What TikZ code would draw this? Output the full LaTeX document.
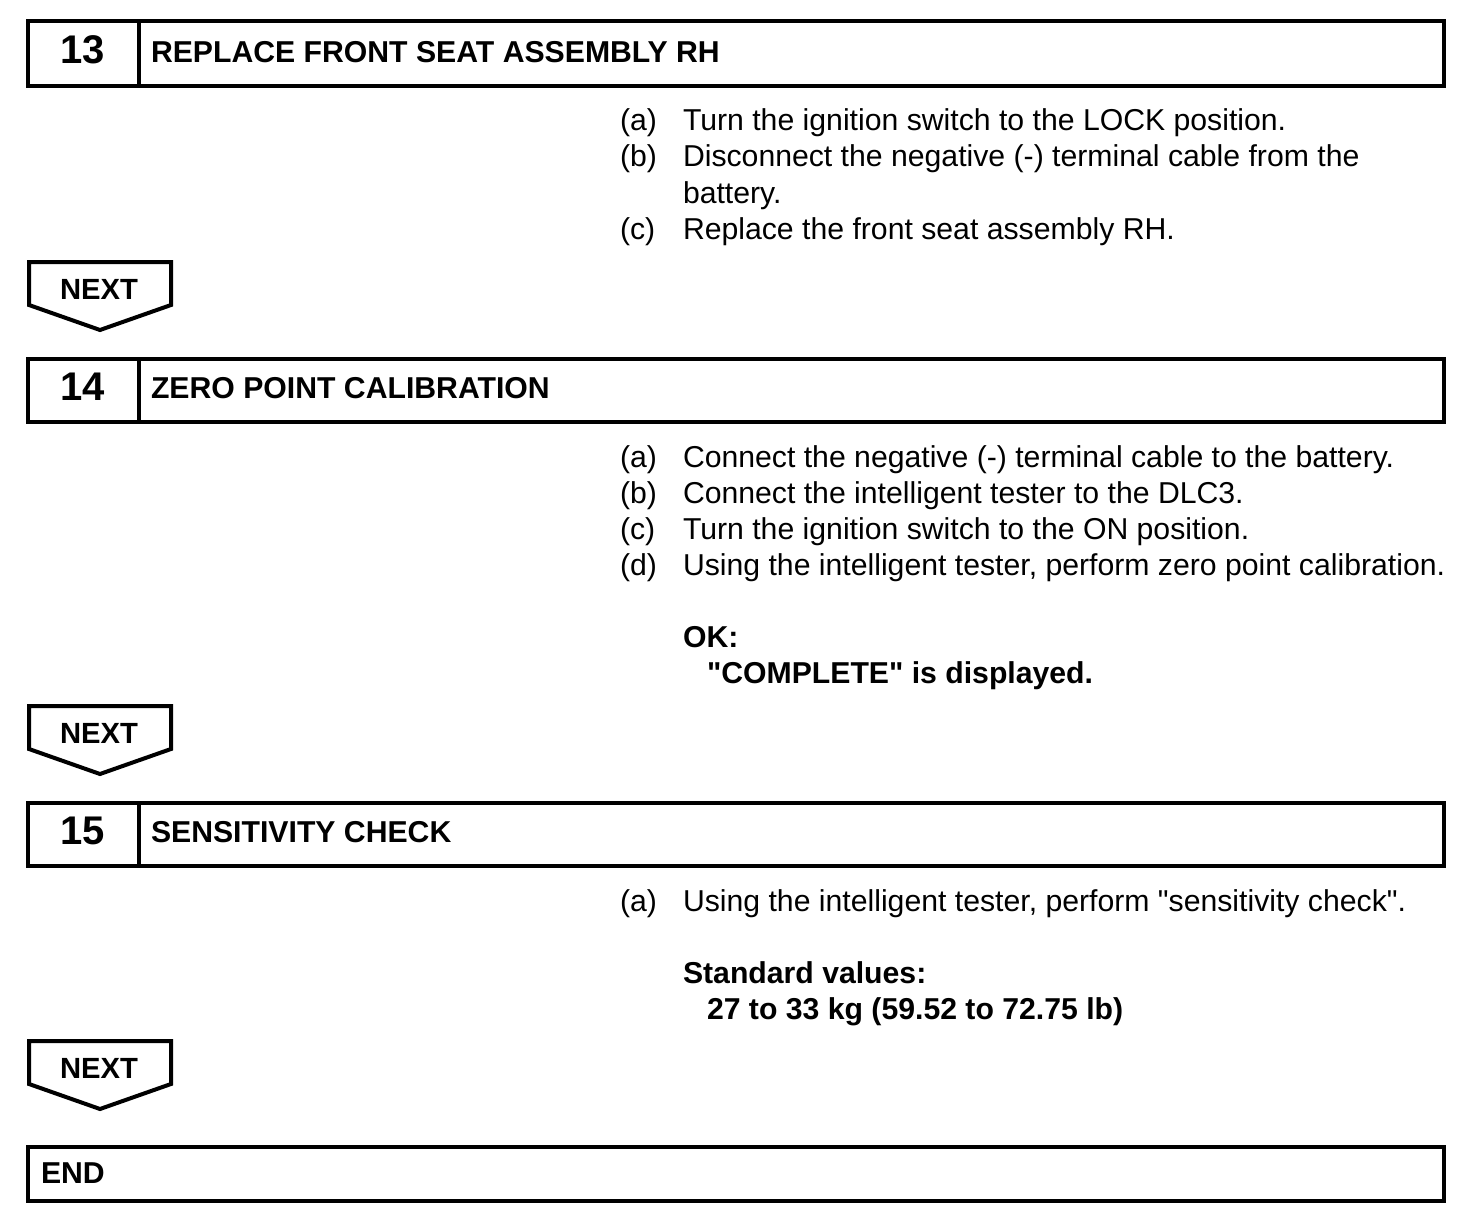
\documentclass[tikz,border=0pt]{standalone}
\usepackage{fontspec}
\setmainfont{Liberation Sans}[Ligatures=TeXOff]
\begin{document}
\begin{tikzpicture}[x=0.5pt, y=-0.5pt, line width=2pt,
  every node/.style={inner sep=0pt},
  numtext/.style={font=\fontsize{20}{24}\selectfont\bfseries, anchor=base},
  headtext/.style={font=\fontsize{15.1}{18}\selectfont\bfseries, anchor=base west},
  body/.style={font=\fontsize{15.1}{18}\selectfont, anchor=base west},
  bodybold/.style={font=\fontsize{15.1}{18}\selectfont\bfseries, anchor=base west},
  nexttext/.style={font=\fontsize{14.6}{17}\selectfont\bfseries}]
  \useasboundingbox (0,0) rectangle (1472,1220);
  % step 13
  \draw (27.5,21) rectangle (1444,86);
  \draw (138.5,21) -- (138.5,86);
  \node[numtext] (n13) at (83,64) {13};
  \node[headtext] (h13) at (149,63) {REPLACE FRONT SEAT ASSEMBLY RH};
  \node[body] (l13a) at (618,131) {(a)};
  \node[body] (t13a) at (681,131) {Turn the ignition switch to the LOCK position.};
  \node[body] (l13b) at (618,167) {(b)};
  \node[body] (t13b) at (681,167) {Disconnect the negative (-) terminal cable from the};
  \node[body] (t13b2) at (681,203) {battery.};
  \node[body] (l13c) at (618,239) {(c)};
  \node[body] (t13c) at (681,239) {Replace the front seat assembly RH.};
  \draw (29,262) -- (171,262) -- (171,305) -- (100,330) -- (29,305) -- cycle;
  \node[nexttext] (next1) at (99,289) {NEXT};
  % step 14
  \draw (27.5,359) rectangle (1444,422);
  \draw (138.5,359) -- (138.5,422);
  \node[numtext] (n14) at (83,400) {14};
  \node[headtext] (h14) at (149,398) {ZERO POINT CALIBRATION};
  \node[body] (l14a) at (618,467) {(a)};
  \node[body] (t14a) at (681,467) {Connect the negative (-) terminal cable to the battery.};
  \node[body] (l14b) at (618,503) {(b)};
  \node[body] (t14b) at (681,503) {Connect the intelligent tester to the DLC3.};
  \node[body] (l14c) at (618,539) {(c)};
  \node[body] (t14c) at (681,539) {Turn the ignition switch to the ON position.};
  \node[body] (l14d) at (618,575) {(d)};
  \node[body] (t14d) at (681,575) {Using the intelligent tester, perform zero point calibration.};
  \node[bodybold] (ok14) at (681,647) {OK:};
  \node[bodybold] (res14) at (705,683) {"COMPLETE" is displayed.};
  \draw (29,706) -- (171,706) -- (171,749) -- (100,774) -- (29,749) -- cycle;
  \node[nexttext] (next2) at (99,733) {NEXT};
  % step 15
  \draw (27.5,803) rectangle (1444,866);
  \draw (138.5,803) -- (138.5,866);
  \node[numtext] (n15) at (83,844) {15};
  \node[headtext] (h15) at (149,842) {SENSITIVITY CHECK};
  \node[body] (l15a) at (618,911) {(a)};
  \node[body] (t15a) at (681,911) {Using the intelligent tester, perform "sensitivity check".};
  \node[bodybold] (std15) at (681,983) {Standard values:};
  \node[bodybold] (val15) at (705,1019) {27 to 33 kg (59.52 to 72.75 lb)};
  \draw (29,1041) -- (171,1041) -- (171,1084) -- (100,1109) -- (29,1084) -- cycle;
  \node[nexttext] (next3) at (99,1068) {NEXT};
  % end
  \draw (27.5,1147) rectangle (1444,1201);
  \node[headtext] (fin) at (39,1183) {END};
\end{tikzpicture}
\end{document}
